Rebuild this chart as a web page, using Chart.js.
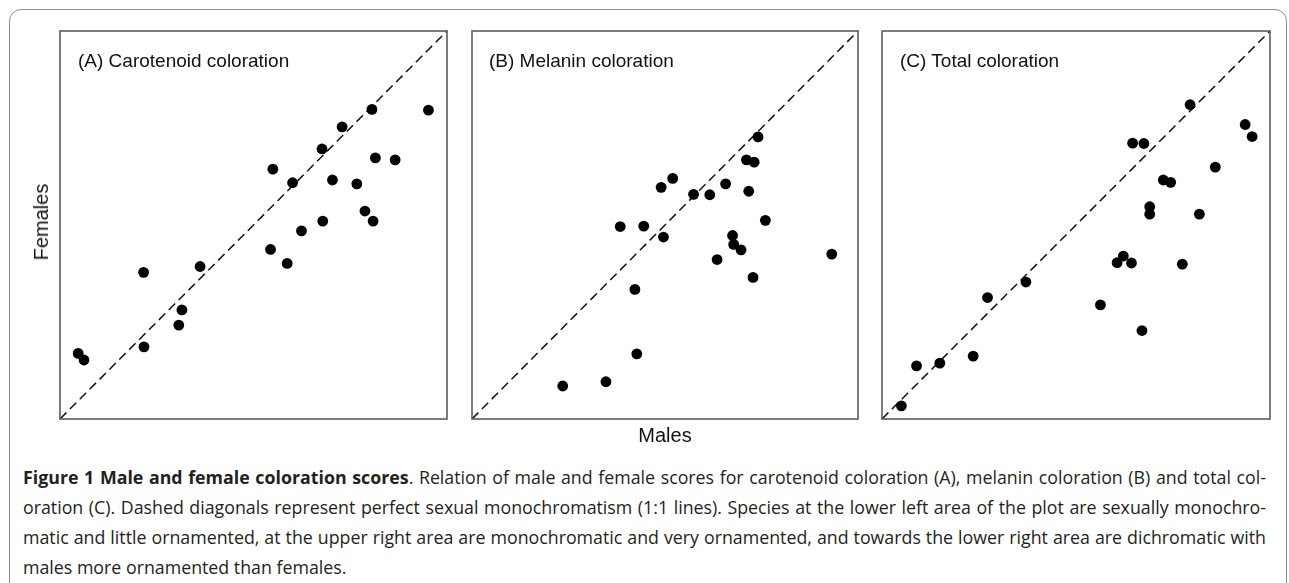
<!DOCTYPE html>
<html>
<head>
<meta charset="utf-8">
<script src="https://cdn.jsdelivr.net/npm/chart.js@4.4.0/dist/chart.umd.min.js"></script>
<style>
  html, body { margin: 0; padding: 0; background: #fff; }
  body { width: 1289px; height: 583px; position: relative; overflow: hidden; }
  .box { position: absolute; left: 9px; top: 9px; width: 1278px; height: 620px;
         border: 1px solid #8a8a8a; border-radius: 12px; box-sizing: border-box; }
  .panel { position: absolute; }
  .ptitle { position: absolute; font-family: "Liberation Sans", Arial, sans-serif;
            font-size: 19px; line-height: 19px; color: #111; white-space: nowrap; }
  .axlabel { position: absolute; font-family: "Liberation Sans", Arial, sans-serif;
             font-size: 20px; line-height: 20px; color: #111; white-space: nowrap; }
  .caption { position: absolute; left: 23px; width: 1243px; font-family: "Open Sans", sans-serif;
             font-size: 17.8px; color: #231f20; }
  .caption div { height: 30px; line-height: 30px; white-space: nowrap; }
</style>
</head>
<body>
<div class="box"></div>

<div class="panel" id="wrapA"><canvas id="chartA"></canvas></div>
<div class="panel" id="wrapB"><canvas id="chartB"></canvas></div>
<div class="panel" id="wrapC"><canvas id="chartC"></canvas></div>

<div class="ptitle" style="left:78px; top:51px;">(A) Carotenoid coloration</div>
<div class="ptitle" style="left:489px; top:51px;">(B) Melanin coloration</div>
<div class="ptitle" style="left:900px; top:51px;">(C) Total coloration</div>

<div class="axlabel" style="left:665px; top:425px; transform: translateX(-50%);">Males</div>
<div class="axlabel" style="left:41px; top:222px; transform: translate(-50%, -50%) rotate(-90deg);">Females</div>

<div class="caption" id="caption" style="top:462px;">
  <div class="fit"><span><b>Figure 1 Male and female coloration scores</b>. Relation of male and female scores for carotenoid coloration (A), melanin coloration (B) and total col-</span></div>
  <div class="fit"><span>oration (C). Dashed diagonals represent perfect sexual monochromatism (1:1 lines). Species at the lower left area of the plot are sexually monochro-</span></div>
  <div class="fit"><span>matic and little ornamented, at the upper right area are monochromatic and very ornamented, and towards the lower right area are dichromatic with</span></div>
  <div><span>males more ornamented than females.</span></div>
</div>

<script>
// scores (axes run 0..100, no ticks shown)
const scoreRange = [0, 100];

const carotMales   = [4.7, 6.2, 21.6, 21.7, 30.7, 31.5, 36.2, 54.4, 55.0, 58.7, 60.1, 62.4, 67.7, 67.9, 70.4, 72.9, 76.7, 78.8, 80.6, 80.9, 81.5, 86.6, 95.2];
const carotFemales = [16.9, 15.2, 37.8, 18.6, 24.2, 28.1, 39.3, 43.7, 64.4, 40.1, 60.9, 48.5, 69.6, 51.0, 61.6, 75.3, 60.6, 53.6, 79.8, 51.0, 67.3, 66.8, 79.6];

const melMales   = [23.5, 34.7, 38.4, 42.2, 42.7, 44.5, 49.0, 49.6, 52.0, 57.4, 61.6, 63.5, 65.7, 67.5, 67.8, 69.7, 71.1, 71.7, 72.8, 73.1, 74.1, 76.0, 93.2];
const melFemales = [8.5, 9.6, 49.6, 33.4, 16.8, 49.7, 59.7, 46.9, 62.0, 57.9, 57.8, 41.1, 60.6, 47.3, 45.0, 43.6, 66.8, 58.7, 36.5, 66.2, 72.7, 51.2, 42.5];

const totMales   = [5.0, 8.9, 14.9, 23.5, 27.2, 37.1, 56.3, 60.6, 62.2, 64.3, 64.6, 67.0, 67.5, 69.0, 69.0, 72.5, 74.4, 77.4, 79.4, 81.8, 85.9, 93.6, 95.4];
const totFemales = [3.4, 13.7, 14.4, 16.2, 31.3, 35.3, 29.4, 40.3, 42.0, 40.2, 71.1, 22.8, 71.0, 54.7, 52.8, 61.6, 61.0, 39.9, 81.0, 52.8, 64.9, 75.9, 72.8];

// frame drawn round the plot area
const framePlugin = {
    id: "frame",
    afterDraw(chart) {
        const { ctx, chartArea: a } = chart;
        ctx.save();
        ctx.strokeStyle = "#5c5c5c";
        ctx.lineWidth = 1.6;
        ctx.strokeRect(a.left, a.top, a.right - a.left, a.bottom - a.top);
        ctx.restore();
    }
};

const PAD = 12;

function makePanel(id, wrapId, left, right, males, females) {
    const top = 31, bottom = 419;
    const wrap = document.getElementById(wrapId);
    wrap.style.left = (left - PAD) + "px";
    wrap.style.top = (top - PAD) + "px";
    wrap.style.width = (right - left + 2 * PAD) + "px";
    wrap.style.height = (bottom - top + 2 * PAD) + "px";

    const points = males.map((m, i) => ({ x: m, y: females[i] }));
    const diagonal = [
        { x: scoreRange[0], y: scoreRange[0] },
        { x: scoreRange[1], y: scoreRange[1] }
    ];

    new Chart(document.getElementById(id), {
        type: "scatter",
        data: {
            datasets: [
                {
                    data: points,
                    pointRadius: 5.4,
                    pointBorderWidth: 0,
                    pointBackgroundColor: "#000",
                    clip: false,
                },
                {
                    data: diagonal,
                    showLine: true,
                    pointRadius: 0,
                    borderColor: "#111",
                    borderWidth: 1.5,
                    borderDash: [9, 5],
                    clip: false,
                }
            ]
        },
        options: {
            responsive: true,
            maintainAspectRatio: false,
            animation: false,
            events: [],
            layout: { padding: PAD },
            plugins: { legend: { display: false }, tooltip: { enabled: false } },
            scales: {
                x: { display: false, min: scoreRange[0], max: scoreRange[1] },
                y: { display: false, min: scoreRange[0], max: scoreRange[1] }
            }
        },
        plugins: [framePlugin]
    });
}

makePanel("chartA", "wrapA", 60, 447, carotMales, carotFemales);
makePanel("chartB", "wrapB", 472, 858, melMales, melFemales);
makePanel("chartC", "wrapC", 882, 1270, totMales, totFemales);

// justify the caption lines to the column width, like the journal layout
const captionWidth = document.getElementById("caption").clientWidth;
document.querySelectorAll("#caption .fit span").forEach(span => {
    const spaces = (span.textContent.match(/ /g) || []).length;
    const extra = captionWidth - span.getBoundingClientRect().width;
    if (spaces) span.style.wordSpacing = (extra / spaces) + "px";
});
</script>
</body>
</html>
